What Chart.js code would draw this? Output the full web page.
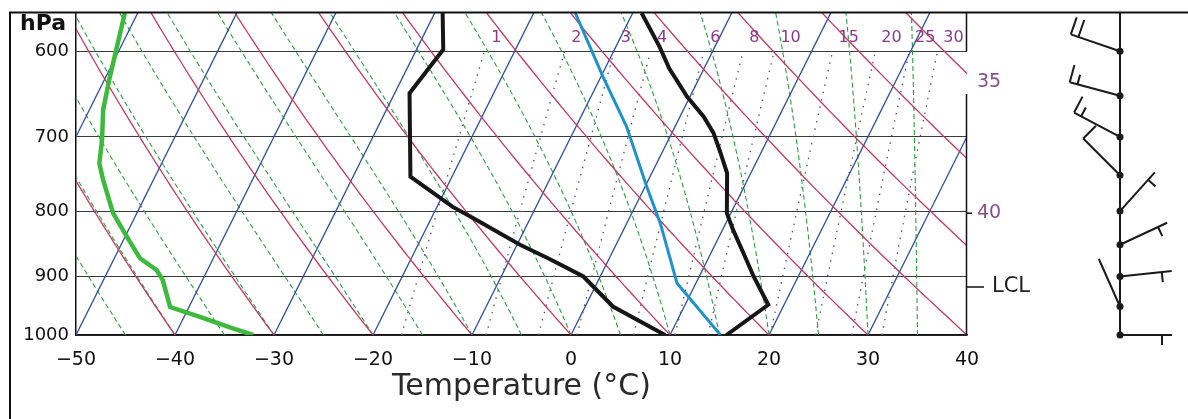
<!DOCTYPE html>
<html><head><meta charset="utf-8">
<script src="https://cdn.jsdelivr.net/npm/chart.js@4.4.1/dist/chart.umd.min.js"></script>
<style>html,body{margin:0;padding:0;background:#fff;overflow:hidden}canvas{display:block}</style>
</head><body>
<canvas id="c" width="1188" height="419"></canvas>
<script>
// ---------- data ----------
const pressureTicks = [600, 700, 800, 900, 1000];
const tempTicks = [-50, -40, -30, -20, -10, 0, 10, 20, 30, 40];

// environmental temperature profile (right black line)
const tempP = [1000, 947, 900, 863, 828, 803, 747, 717, 695, 675, 651, 619, 595, 560];
const tempT = [15.7, 18.4, 15.5, 13.3, 11.1, 9.6, 7.6, 5.7, 4.2, 2.4, -0.3, -3.5, -5.6, -9.1];

// dewpoint profile (left black line)
const dewP = [1000, 950, 900, 872, 850, 810, 794, 752, 647, 598, 560];
const dewT = [9.5, 2.8, -1.7, -6.0, -9.7, -15.8, -18.4, -24.2, -28.5, -27.3, -29.2];

// lifted parcel (blue line)
const parcelP = [1000, 911, 818, 766, 687, 628, 560];
const parcelT = [15.1, 8.1, 3.4, 0.2, -4.9, -9.8, -15.8];

// thick green curve
const greenP = [1000, 988, 968, 951, 906, 890, 871, 838, 803, 756, 734, 704, 667, 628, 560];
const greenT = [-32.1, -34.5, -38.4, -41.9, -44.0, -45.1, -47.4, -49.8, -52.4, -55.1, -56.3, -57.2, -58.6, -59.6, -61.3];

// winds
const windP = [1000, 950, 900, 850, 800, 750, 700, 650, 600];
const windDir = [90, 336, 84, 65, 42, 315, 298, 285, 289];
const windSpd = [5, 2, 5, 5, 5, 10, 15, 15, 20];

// background reference families
const isotherms = [-60, -50, -40, -30, -20, -10, 0, 10, 20, 30, 40];
const dryAdiabats = [-50, -40, -30, -20, -10, 0, 10, 20, 30, 40, 50, 60, 70, 80];
const moistAdiabats = [-45, -40, -35, -30, -25, -20, -15, -10, -5, 0, 5, 10, 15, 20, 25, 30, 35, 40];
const mixingRatios = [1, 2, 3, 4, 6, 8, 10, 15, 20, 25, 30];
const mixingLabels = ['1', '2', '3', '4', '6', '8', '10', '15', '20', '25', '30'];
const sideLabels = ['35', '40'];
const sideLabelP = [634, 803];
const lclP = 917;

// ---------- helpers ----------
const SKEW = 28, PTOP = 560, PBOT = 1000;
const skewX = (t, p) => t + SKEW * Math.log(1000 / p);
const profile = (Ts, Ps) => Ts.map((t, i) => ({x: skewX(t, Ps[i]), y: Ps[i]}));
const esat = tc => 6.112 * Math.exp(17.67 * tc / (tc + 243.5));
function dewFromW(w, p) { const e = w * p / (622 + w); const l = Math.log(e / 6.112); return 243.5 * l / (17.67 - l); }
function pRange(step, lo) { const a = []; for (let p = 1000; p >= lo; p -= step) a.push(p); return a; }

function dryLine(th) { return pRange(10, 540).map(p => ({x: skewX((th + 273.15) * Math.pow(p / 1000, 0.2857) - 273.15, p), y: p})); }
function moistLine(t0) {
  const Rd = 287.04, cp = 1005.7, Lv = 2.501e6, eps = 0.622;
  const f = (T, p) => { const tc = T - 273.15; const es = esat(tc); const rs = eps * es / (p - es);
    return (Rd * T + Lv * rs) / (p * (cp + Lv * Lv * rs * eps / (Rd * T * T))); };
  let T = t0 + 273.15; const out = [];
  for (let p = 1000; p >= 540; p -= 5) {
    out.push({x: skewX(T - 273.15, p), y: p});
    const dp = -5; const k1 = f(T, p); const k2 = f(T + k1 * dp / 2, p + dp / 2); T += k2 * dp;
  }
  return out;
}
function mixLine(w) { return pRange(20, 600).map(p => ({x: skewX(dewFromW(w, p), p), y: p})); }
function isoLine(t) { return [{x: skewX(t, 1000), y: 1000}, {x: skewX(t, 540), y: 540}]; }

const bg = (data, color, width, dash) => ({data, borderColor: color, borderWidth: width, borderDash: dash || [],
  pointRadius: 0, showLine: true, fill: false, tension: 0, order: 10});

const datasets = [];
datasets.push({data: profile(tempT, tempP), borderColor: '#161616', borderWidth: 4, pointRadius: 0, showLine: true, order: 0});
datasets.push({data: profile(dewT, dewP), borderColor: '#161616', borderWidth: 4, pointRadius: 0, showLine: true, order: 0});
datasets.push({data: profile(parcelT, parcelP), borderColor: '#1f93c9', borderWidth: 3, pointRadius: 0, showLine: true, order: 1});
datasets.push({data: profile(greenT, greenP), borderColor: '#3dba3d', borderWidth: 4.5, pointRadius: 0, showLine: true, order: 1});
mixingRatios.forEach(w => datasets.push(Object.assign(bg(mixLine(w), '#5b4a78', 1.3, [1.5, 6]), {order: 12})));
moistAdiabats.forEach(t => datasets.push(Object.assign(bg(moistLine(t), '#2f9e40', 1.1, [5, 3]), {order: 11})));
dryAdiabats.forEach(t => datasets.push(bg(dryLine(t), '#c23a60', 1.3)));
isotherms.forEach(t => datasets.push(bg(isoLine(t), '#2d4c9c', 1.3)));

// ---------- extras plugin ----------
function drawBarb(ctx, x0, y0, dir, spd) {
  const L = 52, r = dir * Math.PI / 180, ux = Math.sin(r), uy = -Math.cos(r), px = -uy, py = ux;
  ctx.beginPath(); ctx.moveTo(x0, y0); ctx.lineTo(x0 + ux * L, y0 + uy * L);
  const s = Math.round(spd / 5) * 5; const nFull = Math.floor(s / 10), nHalf = (s % 10) >= 5 ? 1 : 0;
  let pos = (nFull === 0 && nHalf) ? L - 10 : L;
  for (let i = 0; i < nFull; i++) { const bx = x0 + ux * pos, by = y0 + uy * pos; ctx.moveTo(bx, by); ctx.lineTo(bx + px * 18, by + py * 18); pos -= 8; }
  if (nHalf) { const bx = x0 + ux * pos, by = y0 + uy * pos; ctx.moveTo(bx, by); ctx.lineTo(bx + px * 10, by + py * 10); }
  ctx.stroke();
}
const extras = {
  id: 'extras',
  afterDraw(chart) {
    const {ctx, chartArea: a, scales: {x, y}} = chart;
    ctx.save();
    ctx.strokeStyle = '#111'; ctx.lineWidth = 2;
    ctx.beginPath(); ctx.moveTo(10, 419); ctx.lineTo(10, 12.5); ctx.lineTo(1188, 12.5); ctx.stroke();
    ctx.lineWidth = 1.5;
    ctx.beginPath(); ctx.moveTo(a.right - 0.5, a.top); ctx.lineTo(a.right - 0.5, y.getPixelForValue(600));
    ctx.moveTo(a.right - 0.5, y.getPixelForValue(648)); ctx.lineTo(a.right - 0.5, a.bottom); ctx.stroke();
    // hPa
    ctx.fillStyle = '#111'; ctx.font = 'bold 22px "DejaVu Sans"'; ctx.textAlign = 'left'; ctx.textBaseline = 'middle';
    ctx.fillText('hPa', 20, 24);
    // mixing ratio labels
    ctx.fillStyle = '#8b3a8b'; ctx.font = '16px "DejaVu Sans"';
    const pl = 586;
    mixingRatios.forEach((w, i) => ctx.fillText(mixingLabels[i], x.getPixelForValue(skewX(dewFromW(w, pl), pl)) + 3, y.getPixelForValue(pl)));
    // side labels
    ctx.fillStyle = '#87508a'; ctx.font = '19px "DejaVu Sans"';
    sideLabels.forEach((s, i) => ctx.fillText(s, a.right + 10, y.getPixelForValue(sideLabelP[i])));
    ctx.strokeStyle = '#111'; ctx.lineWidth = 1.5;
    ctx.beginPath(); ctx.moveTo(a.right, y.getPixelForValue(803)); ctx.lineTo(a.right + 5, y.getPixelForValue(803));
    const yl = y.getPixelForValue(lclP); ctx.moveTo(a.right, yl); ctx.lineTo(a.right + 17, yl); ctx.stroke();
    ctx.fillStyle = '#222'; ctx.font = '21px "DejaVu Sans"'; ctx.fillText('LCL', a.right + 25, yl);
    // wind column
    const wx = 1120;
    ctx.strokeStyle = '#1a1a1a'; ctx.lineWidth = 2;
    ctx.beginPath(); ctx.moveTo(wx, a.top); ctx.lineTo(wx, a.bottom); ctx.stroke();
    windP.forEach((p, i) => {
      const yy = y.getPixelForValue(p);
      drawBarb(ctx, wx, yy, windDir[i], windSpd[i]);
      ctx.fillStyle = '#1a1a1a'; ctx.beginPath(); ctx.arc(wx, yy, 3.5, 0, Math.PI * 2); ctx.fill();
    });
    ctx.restore();
  }
};

new Chart(document.getElementById('c'), {
  type: 'scatter',
  data: {datasets},
  options: {
    responsive: false, animation: false, devicePixelRatio: 1,
    layout: {padding: {left: 0, top: 13, right: 221, bottom: 14}},
    plugins: {legend: {display: false}, tooltip: {enabled: false}},
    elements: {line: {tension: 0}},
    scales: {
      x: {
        type: 'linear', min: -50, max: 40,
        afterBuildTicks: s => { s.ticks = tempTicks.map(v => ({value: v})); },
        afterFit: s => { s.height = 70; s.paddingLeft = 0; s.paddingRight = 0; },
        ticks: {padding: 14, color: '#111', font: {family: 'DejaVu Sans', size: 19},
          callback: v => String(v).replace('-', '\u2212')},
        grid: {display: false, drawTicks: false},
        border: {display: true, color: '#111', width: 1.5},
        title: {display: true, text: 'Temperature (°C)', color: '#2a2a2a', padding: 0,
          font: {family: 'DejaVu Sans', size: 30}}
      },
      y: {
        type: 'logarithmic', min: PTOP, max: PBOT, reverse: true,
        afterBuildTicks: s => { s.ticks = pressureTicks.map(v => ({value: v})); },
        afterFit: s => { s.width = 76; s.paddingTop = 0; s.paddingBottom = 0; },
        ticks: {padding: 7, color: '#111', font: {family: 'DejaVu Sans', size: 18}, callback: v => String(v)},
        grid: {display: true, color: '#3a3a3a', lineWidth: 1, drawTicks: false},
        border: {display: true, color: '#111', width: 1.5}
      }
    }
  },
  plugins: [extras]
});
</script>
</body></html>
